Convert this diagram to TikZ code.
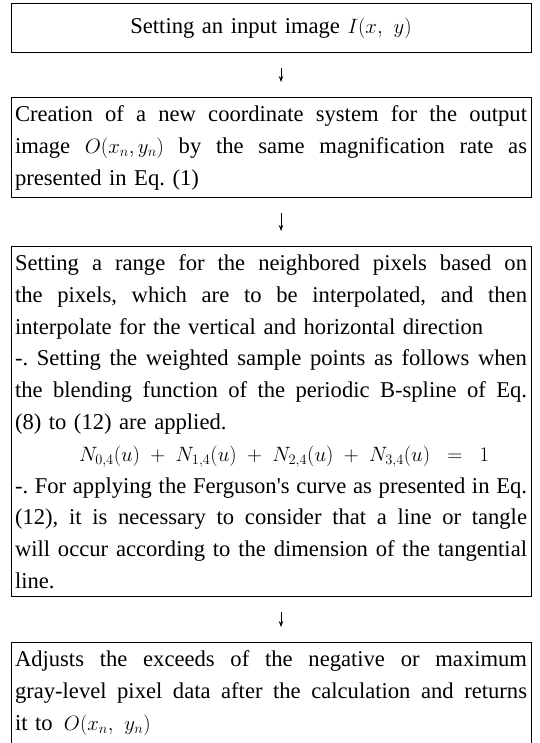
\documentclass[tikz,border=0pt]{standalone}
\usepackage{fontspec}
\setmainfont{Liberation Serif}
\usetikzlibrary{arrows.meta}
\newlength{\tw}\setlength{\tw}{512pt}
\newcommand{\jl}[1]{\leavevmode\hbox to \tw{\spaceskip=0.25em plus 1fil minus 0.12em\relax
  \xspaceskip=\spaceskip #1}}
\frenchspacing
\begin{document}
\begin{tikzpicture}[x=1pt,y=1pt,
  box/.style={draw, line width=1pt, text width=\tw, inner xsep=4pt, inner ysep=8pt,
              anchor=north, font=\fontsize{22.6}{31.8}\selectfont, align=left},
  flow/.style={-{Stealth[length=6pt,width=4.5pt]}, line width=0.8pt,
               shorten >=15pt, shorten <=15pt}]
\fill[white] (0,0) rectangle (539,-743);
\useasboundingbox (0,0) rectangle (539,-743);

\node[box, align=center, inner ysep=14pt] (b1) at (271,-3) {Setting an input image $I(x,\ y)$};

\node[box] (b2) at (271,-97) {%
\jl{Creation of a new coordinate system for the output}\\
\jl{image $O(x_n,y_n)$ by the same magnification rate as}\\
presented in Eq. (1)};

\node[box] (b3) at (271,-246) {%
\jl{Setting a range for the neighbored pixels based on}\\
\jl{the pixels, which are to be interpolated, and then}\\
interpolate for the vertical and horizontal direction\\
\jl{-. Setting the weighted sample points as follows when}\\
\jl{the blending function of the periodic B-spline of Eq.}\\
(8) to (12) are applied.\\
\hspace*{64pt}$N_{0,4}(u)\;+\;N_{1,4}(u)\;+\;N_{2,4}(u)\;+\;N_{3,4}(u)\;\;=\;\;1$\\
\jl{-. For applying the Ferguson\textquotesingle s curve as presented in Eq.}\\
\jl{(12), it is necessary to consider that a line or tangle}\\
\jl{will occur according to the dimension of the tangential}\\
line.};

\node[box] (b4) at (271,-642) {%
\jl{Adjusts the exceeds of the negative or maximum}\\
\jl{gray-level pixel data after the calculation and returns}\\
it to\enspace$O(x_n,\ y_n)$};

\draw[flow] ([xshift=10pt]b1.south) -- ([xshift=10pt]b2.north);
\draw[flow] ([xshift=10pt]b2.south) -- ([xshift=10pt]b3.north);
\draw[flow] ([xshift=10pt]b3.south) -- ([xshift=10pt]b4.north);
\end{tikzpicture}
\end{document}
